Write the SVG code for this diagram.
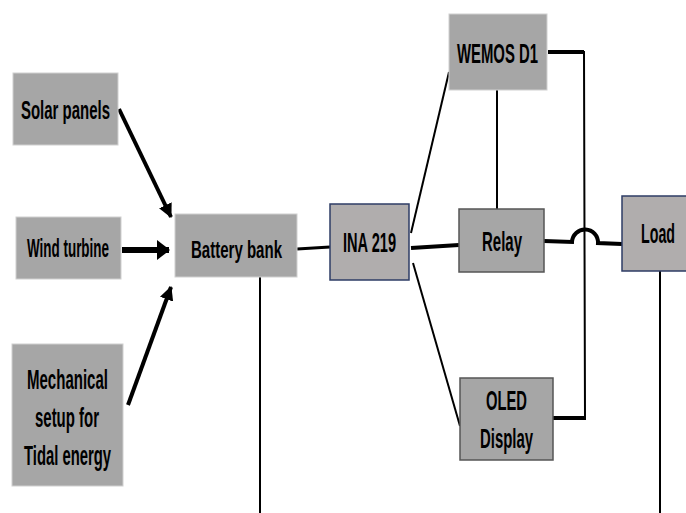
<svg xmlns="http://www.w3.org/2000/svg" width="686" height="513" viewBox="0 0 686 513">
<style>
.box{fill:#a6a6a6;stroke:#d0d0d0;stroke-width:1}
.boxn{fill:#b0adad;stroke:#2e3d66;stroke-width:1.5}
.boxd{fill:#a6a6a6;stroke:#555;stroke-width:1.5}
text{font-family:"Liberation Sans Narrow","Liberation Sans",Arial,sans-serif;font-weight:bold;fill:#000;text-anchor:middle}
.ln{stroke:#000;fill:none}
</style>
<defs>
<marker id="ah" markerUnits="userSpaceOnUse" markerWidth="14" markerHeight="14" refX="13" refY="7" orient="auto"><path d="M0,0 L14,7 L0,14 z" fill="#000"/></marker>
<marker id="ahb" markerUnits="userSpaceOnUse" markerWidth="13" markerHeight="20" refX="12" refY="10" orient="auto"><path d="M0,0 L13,10 L0,20 z" fill="#000"/></marker>
</defs>
<g id="connectors">
<line class="ln" x1="119" y1="109" x2="171" y2="217" stroke-width="4" marker-end="url(#ah)"/>
<line class="ln" x1="122" y1="250" x2="169" y2="250" stroke-width="6" marker-end="url(#ahb)"/>
<line class="ln" x1="128" y1="405" x2="171" y2="287" stroke-width="4" marker-end="url(#ah)"/>
<line class="ln" x1="297" y1="249" x2="330" y2="247" stroke-width="3"/>
<line class="ln" x1="260" y1="277" x2="260" y2="513" stroke-width="2"/>
<line class="ln" x1="411" y1="233" x2="449" y2="72" stroke-width="2"/>
<line class="ln" x1="411" y1="248" x2="459" y2="245" stroke-width="4"/>
<line class="ln" x1="413" y1="263" x2="460" y2="426" stroke-width="2"/>
<line class="ln" x1="497" y1="90" x2="497" y2="209" stroke-width="2"/>
<polyline class="ln" points="548,52 584,52 585,419 553,419" stroke-width="2"/>
<line class="ln" x1="548" y1="52" x2="584" y2="52" stroke-width="4"/>
<line class="ln" x1="553" y1="418" x2="585" y2="418" stroke-width="4"/>
<path class="ln" d="M544,241 L572,242 A13,13 0 0 1 598,243 L622,244" stroke-width="4"/>
<line class="ln" x1="660" y1="271" x2="660" y2="513" stroke-width="2"/>
</g>
<g id="solar"><rect class="box" x="13" y="73" width="105" height="72"/><text x="65.5" y="119" font-size="26" textLength="89" lengthAdjust="spacingAndGlyphs">Solar panels</text></g>
<g id="wind"><rect class="box" x="16" y="217" width="105" height="62"/><text x="68" y="257" font-size="25" textLength="82" lengthAdjust="spacingAndGlyphs">Wind turbine</text></g>
<g id="tidal"><rect class="box" x="12" y="344" width="111" height="142"/>
<text x="67.5" y="389" font-size="28" textLength="81" lengthAdjust="spacingAndGlyphs">Mechanical</text>
<text x="67" y="427" font-size="28" textLength="64" lengthAdjust="spacingAndGlyphs">setup for</text>
<text x="67.5" y="465" font-size="28" textLength="87" lengthAdjust="spacingAndGlyphs">Tidal energy</text></g>
<g id="battery"><rect class="box" x="175" y="214" width="122" height="63"/><text x="236.5" y="258" font-size="24" textLength="91" lengthAdjust="spacingAndGlyphs">Battery bank</text></g>
<g id="ina"><rect class="boxn" x="330" y="204" width="79" height="76"/><text x="369.5" y="252" font-size="28" textLength="53" lengthAdjust="spacingAndGlyphs">INA 219</text></g>
<g id="wemos"><rect class="box" x="449" y="14" width="98" height="76"/><text x="497.5" y="63" font-size="28" textLength="81" lengthAdjust="spacingAndGlyphs">WEMOS D1</text></g>
<g id="relay"><rect class="boxd" x="459" y="209" width="85" height="63"/><text x="502" y="251" font-size="27" textLength="40" lengthAdjust="spacingAndGlyphs">Relay</text></g>
<g id="load"><rect class="boxn" x="622" y="196" width="66" height="75"/><text x="658" y="243" font-size="28" textLength="34" lengthAdjust="spacingAndGlyphs">Load</text></g>
<g id="oled"><rect class="boxd" x="460" y="378" width="93" height="82"/>
<text x="506.5" y="410" font-size="28" textLength="41" lengthAdjust="spacingAndGlyphs">OLED</text>
<text x="506.5" y="448" font-size="28" textLength="53" lengthAdjust="spacingAndGlyphs">Display</text></g>
</svg>
